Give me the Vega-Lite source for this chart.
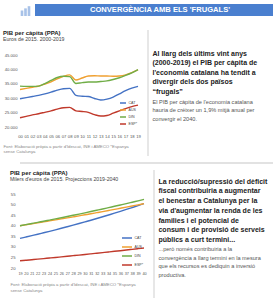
{
  "$schema": "https://vega.github.io/schema/vega-lite/v6.json",
  "background": "white",
  "padding": {"left": 3, "top": 4, "right": 0, "bottom": 0},
  "spacing": 13,
  "resolve": {"scale": {"color": "independent"}, "legend": {"color": "independent"}},
  "config": {
    "font": "Liberation Sans",
    "view": {"stroke": null},
    "axis": {"labelFont": "Liberation Sans", "labelColor": "#555", "grid": false, "ticks": false, "domain": false},
    "legend": {"labelFont": "Liberation Sans", "labelColor": "#444"}
  },
  "datasets": {
    "hist": [
      {"year": 2000, "pais": "CAT", "pib": 29800}, {"year": 2001, "pais": "CAT", "pib": 30200}, {"year": 2002, "pais": "CAT", "pib": 30600}, {"year": 2003, "pais": "CAT", "pib": 31000}, {"year": 2004, "pais": "CAT", "pib": 31500}, {"year": 2005, "pais": "CAT", "pib": 32100}, {"year": 2006, "pais": "CAT", "pib": 32800}, {"year": 2007, "pais": "CAT", "pib": 33300}, {"year": 2008, "pais": "CAT", "pib": 33400}, {"year": 2009, "pais": "CAT", "pib": 31000}, {"year": 2010, "pais": "CAT", "pib": 30700}, {"year": 2011, "pais": "CAT", "pib": 30600}, {"year": 2012, "pais": "CAT", "pib": 29900}, {"year": 2013, "pais": "CAT", "pib": 29400}, {"year": 2014, "pais": "CAT", "pib": 29700}, {"year": 2015, "pais": "CAT", "pib": 30400}, {"year": 2016, "pais": "CAT", "pib": 31500}, {"year": 2017, "pais": "CAT", "pib": 32600}, {"year": 2018, "pais": "CAT", "pib": 33500}, {"year": 2019, "pais": "CAT", "pib": 34100},
      {"year": 2000, "pais": "AUS", "pib": 33000}, {"year": 2001, "pais": "AUS", "pib": 33400}, {"year": 2002, "pais": "AUS", "pib": 33800}, {"year": 2003, "pais": "AUS", "pib": 34200}, {"year": 2004, "pais": "AUS", "pib": 34900}, {"year": 2005, "pais": "AUS", "pib": 35700}, {"year": 2006, "pais": "AUS", "pib": 36700}, {"year": 2007, "pais": "AUS", "pib": 37600}, {"year": 2008, "pais": "AUS", "pib": 38100}, {"year": 2009, "pais": "AUS", "pib": 36300}, {"year": 2010, "pais": "AUS", "pib": 37000}, {"year": 2011, "pais": "AUS", "pib": 37700}, {"year": 2012, "pais": "AUS", "pib": 37800}, {"year": 2013, "pais": "AUS", "pib": 37700}, {"year": 2014, "pais": "AUS", "pib": 37700}, {"year": 2015, "pais": "AUS", "pib": 37600}, {"year": 2016, "pais": "AUS", "pib": 37700}, {"year": 2017, "pais": "AUS", "pib": 38100}, {"year": 2018, "pais": "AUS", "pib": 38900}, {"year": 2019, "pais": "AUS", "pib": 39800},
      {"year": 2000, "pais": "DIN", "pib": 34200}, {"year": 2001, "pais": "DIN", "pib": 34100}, {"year": 2002, "pais": "DIN", "pib": 34100}, {"year": 2003, "pais": "DIN", "pib": 34200}, {"year": 2004, "pais": "DIN", "pib": 35100}, {"year": 2005, "pais": "DIN", "pib": 36200}, {"year": 2006, "pais": "DIN", "pib": 37200}, {"year": 2007, "pais": "DIN", "pib": 37600}, {"year": 2008, "pais": "DIN", "pib": 37500}, {"year": 2009, "pais": "DIN", "pib": 35100}, {"year": 2010, "pais": "DIN", "pib": 35400}, {"year": 2011, "pais": "DIN", "pib": 35600}, {"year": 2012, "pais": "DIN", "pib": 35600}, {"year": 2013, "pais": "DIN", "pib": 35800}, {"year": 2014, "pais": "DIN", "pib": 36000}, {"year": 2015, "pais": "DIN", "pib": 36500}, {"year": 2016, "pais": "DIN", "pib": 37100}, {"year": 2017, "pais": "DIN", "pib": 37900}, {"year": 2018, "pais": "DIN", "pib": 38800}, {"year": 2019, "pais": "DIN", "pib": 39900},
      {"year": 2000, "pais": "ESP*", "pib": 23200}, {"year": 2001, "pais": "ESP*", "pib": 23700}, {"year": 2002, "pais": "ESP*", "pib": 24200}, {"year": 2003, "pais": "ESP*", "pib": 24600}, {"year": 2004, "pais": "ESP*", "pib": 25100}, {"year": 2005, "pais": "ESP*", "pib": 25600}, {"year": 2006, "pais": "ESP*", "pib": 26200}, {"year": 2007, "pais": "ESP*", "pib": 26700}, {"year": 2008, "pais": "ESP*", "pib": 26800}, {"year": 2009, "pais": "ESP*", "pib": 25600}, {"year": 2010, "pais": "ESP*", "pib": 25400}, {"year": 2011, "pais": "ESP*", "pib": 25100}, {"year": 2012, "pais": "ESP*", "pib": 24300}, {"year": 2013, "pais": "ESP*", "pib": 23800}, {"year": 2014, "pais": "ESP*", "pib": 24000}, {"year": 2015, "pais": "ESP*", "pib": 24800}, {"year": 2016, "pais": "ESP*", "pib": 25600}, {"year": 2017, "pais": "ESP*", "pib": 26400}, {"year": 2018, "pais": "ESP*", "pib": 27100}, {"year": 2019, "pais": "ESP*", "pib": 27600}
    ],
    "proj": [
      {"year": 2019, "pais": "CAT", "pib": 34.0}, {"year": 2020, "pais": "CAT", "pib": 34.65}, {"year": 2021, "pais": "CAT", "pib": 35.31}, {"year": 2022, "pais": "CAT", "pib": 35.97}, {"year": 2023, "pais": "CAT", "pib": 36.66}, {"year": 2024, "pais": "CAT", "pib": 37.35}, {"year": 2025, "pais": "CAT", "pib": 38.06}, {"year": 2026, "pais": "CAT", "pib": 38.78}, {"year": 2027, "pais": "CAT", "pib": 39.52}, {"year": 2028, "pais": "CAT", "pib": 40.27}, {"year": 2029, "pais": "CAT", "pib": 41.03}, {"year": 2030, "pais": "CAT", "pib": 41.81}, {"year": 2031, "pais": "CAT", "pib": 42.6}, {"year": 2032, "pais": "CAT", "pib": 43.41}, {"year": 2033, "pais": "CAT", "pib": 44.24}, {"year": 2034, "pais": "CAT", "pib": 45.08}, {"year": 2035, "pais": "CAT", "pib": 45.93}, {"year": 2036, "pais": "CAT", "pib": 46.8}, {"year": 2037, "pais": "CAT", "pib": 47.69}, {"year": 2038, "pais": "CAT", "pib": 48.6}, {"year": 2039, "pais": "CAT", "pib": 49.52}, {"year": 2040, "pais": "CAT", "pib": 50.46},
      {"year": 2019, "pais": "AUS", "pib": 40.0}, {"year": 2020, "pais": "AUS", "pib": 40.44}, {"year": 2021, "pais": "AUS", "pib": 40.89}, {"year": 2022, "pais": "AUS", "pib": 41.35}, {"year": 2023, "pais": "AUS", "pib": 41.8}, {"year": 2024, "pais": "AUS", "pib": 42.27}, {"year": 2025, "pais": "AUS", "pib": 42.74}, {"year": 2026, "pais": "AUS", "pib": 43.21}, {"year": 2027, "pais": "AUS", "pib": 43.69}, {"year": 2028, "pais": "AUS", "pib": 44.18}, {"year": 2029, "pais": "AUS", "pib": 44.67}, {"year": 2030, "pais": "AUS", "pib": 45.16}, {"year": 2031, "pais": "AUS", "pib": 45.66}, {"year": 2032, "pais": "AUS", "pib": 46.17}, {"year": 2033, "pais": "AUS", "pib": 46.68}, {"year": 2034, "pais": "AUS", "pib": 47.2}, {"year": 2035, "pais": "AUS", "pib": 47.73}, {"year": 2036, "pais": "AUS", "pib": 48.26}, {"year": 2037, "pais": "AUS", "pib": 48.79}, {"year": 2038, "pais": "AUS", "pib": 49.33}, {"year": 2039, "pais": "AUS", "pib": 49.88}, {"year": 2040, "pais": "AUS", "pib": 50.44},
      {"year": 2019, "pais": "DIN", "pib": 40.0}, {"year": 2020, "pais": "DIN", "pib": 40.52}, {"year": 2021, "pais": "DIN", "pib": 41.05}, {"year": 2022, "pais": "DIN", "pib": 41.58}, {"year": 2023, "pais": "DIN", "pib": 42.12}, {"year": 2024, "pais": "DIN", "pib": 42.67}, {"year": 2025, "pais": "DIN", "pib": 43.22}, {"year": 2026, "pais": "DIN", "pib": 43.78}, {"year": 2027, "pais": "DIN", "pib": 44.35}, {"year": 2028, "pais": "DIN", "pib": 44.93}, {"year": 2029, "pais": "DIN", "pib": 45.51}, {"year": 2030, "pais": "DIN", "pib": 46.1}, {"year": 2031, "pais": "DIN", "pib": 46.7}, {"year": 2032, "pais": "DIN", "pib": 47.31}, {"year": 2033, "pais": "DIN", "pib": 47.92}, {"year": 2034, "pais": "DIN", "pib": 48.55}, {"year": 2035, "pais": "DIN", "pib": 49.18}, {"year": 2036, "pais": "DIN", "pib": 49.82}, {"year": 2037, "pais": "DIN", "pib": 50.46}, {"year": 2038, "pais": "DIN", "pib": 51.12}, {"year": 2039, "pais": "DIN", "pib": 51.78}, {"year": 2040, "pais": "DIN", "pib": 52.45},
      {"year": 2019, "pais": "ESP*", "pib": 23.4}, {"year": 2020, "pais": "ESP*", "pib": 23.66}, {"year": 2021, "pais": "ESP*", "pib": 23.92}, {"year": 2022, "pais": "ESP*", "pib": 24.18}, {"year": 2023, "pais": "ESP*", "pib": 24.45}, {"year": 2024, "pais": "ESP*", "pib": 24.72}, {"year": 2025, "pais": "ESP*", "pib": 24.99}, {"year": 2026, "pais": "ESP*", "pib": 25.27}, {"year": 2027, "pais": "ESP*", "pib": 25.55}, {"year": 2028, "pais": "ESP*", "pib": 25.83}, {"year": 2029, "pais": "ESP*", "pib": 26.11}, {"year": 2030, "pais": "ESP*", "pib": 26.4}, {"year": 2031, "pais": "ESP*", "pib": 26.69}, {"year": 2032, "pais": "ESP*", "pib": 26.98}, {"year": 2033, "pais": "ESP*", "pib": 27.28}, {"year": 2034, "pais": "ESP*", "pib": 27.58}, {"year": 2035, "pais": "ESP*", "pib": 27.89}, {"year": 2036, "pais": "ESP*", "pib": 28.19}, {"year": 2037, "pais": "ESP*", "pib": 28.5}, {"year": 2038, "pais": "ESP*", "pib": 28.82}, {"year": 2039, "pais": "ESP*", "pib": 29.14}, {"year": 2040, "pais": "ESP*", "pib": 29.46}
    ],
    "icon": [{"k": "a", "v": 5}, {"k": "b", "v": 7}, {"k": "c", "v": 9}],
    "one": [{}]
  },
  "vconcat": [
    {
      "spacing": 4,
      "hconcat": [
        {
          "width": 11, "height": 12,
          "data": {"name": "icon"},
          "mark": {"type": "bar", "color": "#a8c2e8"},
          "encoding": {
            "x": {"field": "k", "type": "nominal", "axis": null, "scale": {"paddingInner": 0.25, "paddingOuter": 0.2}},
            "y": {"field": "v", "type": "quantitative", "axis": null, "scale": {"domain": [0, 11]}}
          }
        },
        {
          "width": 250, "height": 12,
          "view": {"fill": "#4a7fcf", "stroke": null},
          "data": {"name": "one"},
          "mark": {"type": "text", "color": "white", "fontWeight": "bold", "fontSize": 7.6, "font": "Liberation Sans"},
          "encoding": {"text": {"value": "CONVERGÈNCIA AMB ELS 'FRUGALS'"}}
        }
      ]
    },
    {
      "spacing": 5,
      "resolve": {"scale": {"color": "independent"}, "legend": {"color": "independent"}},
      "vconcat": [
        {
          "spacing": 6,
          "resolve": {"scale": {"color": "independent"}, "legend": {"color": "independent"}},
          "hconcat": [
            {
              "spacing": 10,
              "resolve": {"scale": {"color": "independent"}, "legend": {"color": "independent"}},
              "vconcat": [
                {
                  "width": 118, "height": 13,
                  "data": {"name": "one"},
                  "layer": [
                    {
                      "mark": {"type": "text", "align": "left", "baseline": "top", "fontSize": 6, "fontWeight": "bold", "color": "#222", "text": "PIB per càpita (PPA)"},
                      "encoding": {
                        "x": {"datum": -0.144, "type": "quantitative", "scale": {"domain": [0, 1]}, "axis": null},
                        "y": {"datum": 1, "type": "quantitative", "scale": {"domain": [0, 1]}, "axis": null}
                      }
                    },
                    {
                      "mark": {"type": "text", "align": "left", "baseline": "top", "fontSize": 5.2, "color": "#444", "text": "Euros de 2015. 2000-2019"},
                      "encoding": {
                        "x": {"datum": -0.144, "type": "quantitative"},
                        "y": {"datum": 0.46, "type": "quantitative"}
                      }
                    }
                  ]
                },
                {
                  "width": 118, "height": 72,
                  "data": {"name": "hist"},
                  "mark": {"type": "line", "strokeWidth": 1.4, "interpolate": "monotone"},
                  "encoding": {
                    "x": {"field": "year", "type": "ordinal", "scale": {"type": "point", "padding": 0},
                      "axis": {"labelExpr": "substring(datum.label, 2)", "labelAngle": 0, "labelFontSize": 4.2, "labelPadding": 7,
                        "title": ["Font: Elaboració pròpia a partir d'Idescat, INE i AMECO *Espanya", "sense Catalunya"],
                        "titleFontSize": 4.3, "titleFontWeight": "normal", "titleColor": "#888", "titleAnchor": "start", "titleAlign": "left", "titleX": -17, "titlePadding": 6, "titleLineHeight": 5.6}},
                    "y": {"field": "pib", "type": "quantitative", "scale": {"domain": [20000, 45000], "nice": false},
                      "axis": {"values": [20000, 25000, 30000, 35000, 40000, 45000], "labelExpr": "replace(format(datum.value, ','), ',', '.')", "labelFontSize": 4.2, "labelPadding": 3, "title": null}},
                    "color": {"field": "pais", "type": "nominal", "scale": {"domain": ["CAT", "AUS", "DIN", "ESP*"], "range": ["#4472c4", "#f0a030", "#70ad47", "#c0392b"]},
                      "legend": {"orient": "bottom-right", "offset": 0, "padding": 0, "title": null, "symbolType": "stroke", "symbolSize": 36, "symbolStrokeWidth": 1.5, "labelFontSize": 3.6, "rowPadding": -6, "labelOffset": 1.5}}
                  }
                }
              ]
            },
            {
              "width": 121, "height": 126,
              "data": {"name": "one"},
              "layer": [
                {
                  "mark": {"type": "rule", "color": "#cfcfcf", "strokeWidth": 1},
                  "encoding": {
                    "x": {"datum": 0, "type": "quantitative", "scale": {"domain": [0, 1]}, "axis": null},
                    "y": {"datum": 0, "type": "quantitative", "scale": {"domain": [0, 1]}, "axis": null},
                    "y2": {"datum": 1}
                  }
                },
                {
                  "mark": {"type": "text", "align": "left", "baseline": "top", "fontSize": 7, "fontWeight": "bold", "lineHeight": 9.5, "color": "#222",
                    "text": ["Al llarg dels últims vint anys", "(2000-2019) el PIB per càpita de", "l'economia catalana ha tendit a", "divergir dels dos països", "\u201cfrugals\u201d"]},
                  "encoding": {
                    "x": {"datum": 0.037, "type": "quantitative"},
                    "y": {"datum": 0.845, "type": "quantitative"}
                  }
                },
                {
                  "mark": {"type": "text", "align": "left", "baseline": "top", "fontSize": 5.6, "lineHeight": 8.4, "color": "#555",
                    "text": ["El PIB per càpita de l'economia catalana", "hauria de créixer un 1,9% mitjà anual per", "convergir el 2040."]},
                  "encoding": {
                    "x": {"datum": 0.037, "type": "quantitative"},
                    "y": {"datum": 0.445, "type": "quantitative"}
                  }
                }
              ]
            }
          ]
        },
        {
          "width": 267, "height": 2,
          "data": {"name": "one"},
          "mark": {"type": "rule", "color": "#d9d9d9", "strokeWidth": 1.5},
          "encoding": {
            "x": {"datum": 0, "type": "quantitative", "scale": {"domain": [0, 1]}, "axis": null},
            "x2": {"datum": 1},
            "y": {"datum": 0.5, "type": "quantitative", "scale": {"domain": [0, 1]}, "axis": null}
          }
        },
        {
          "spacing": 6,
          "resolve": {"scale": {"color": "independent"}, "legend": {"color": "independent"}},
          "hconcat": [
            {
              "spacing": 9,
              "resolve": {"scale": {"color": "independent"}, "legend": {"color": "independent"}},
              "vconcat": [
                {
                  "width": 124, "height": 13,
                  "data": {"name": "one"},
                  "layer": [
                    {
                      "mark": {"type": "text", "align": "left", "baseline": "top", "fontSize": 6, "fontWeight": "bold", "color": "#222", "text": "PIB per càpita (PPA)"},
                      "encoding": {
                        "x": {"datum": -0.081, "type": "quantitative", "scale": {"domain": [0, 1]}, "axis": null},
                        "y": {"datum": 1, "type": "quantitative", "scale": {"domain": [0, 1]}, "axis": null}
                      }
                    },
                    {
                      "mark": {"type": "text", "align": "left", "baseline": "top", "fontSize": 5.2, "color": "#444", "text": "Milers d'euros de 2015. Projeccions 2019-2040"},
                      "encoding": {
                        "x": {"datum": -0.081, "type": "quantitative"},
                        "y": {"datum": 0.46, "type": "quantitative"}
                      }
                    }
                  ]
                },
                {
                  "width": 124, "height": 74,
                  "data": {"name": "proj"},
                  "mark": {"type": "line", "strokeWidth": 1.4, "interpolate": "monotone"},
                  "encoding": {
                    "x": {"field": "year", "type": "ordinal", "scale": {"type": "point", "padding": 0},
                      "axis": {"labelExpr": "substring(datum.label, 2)", "labelAngle": 0, "labelFontSize": 3.8, "labelPadding": 3,
                        "title": ["Font: Elaboració pròpia a partir d'Idescat, INE i AMECO *Espanya", "sense Catalunya"],
                        "titleFontSize": 4.3, "titleFontWeight": "normal", "titleColor": "#888", "titleAnchor": "start", "titleAlign": "left", "titleX": -10, "titlePadding": 8, "titleLineHeight": 5.8}},
                    "y": {"field": "pib", "type": "quantitative", "scale": {"domain": [20, 55], "nice": false},
                      "axis": {"values": [20, 25, 30, 35, 40, 45, 50, 55], "labelFontSize": 4.2, "labelPadding": 5, "title": null}},
                    "color": {"field": "pais", "type": "nominal", "scale": {"domain": ["CAT", "AUS", "DIN", "ESP*"], "range": ["#4472c4", "#f0a030", "#70ad47", "#c0392b"]},
                      "legend": {"orient": "bottom-right", "offset": 0, "padding": 0, "title": null, "symbolType": "stroke", "symbolSize": 100, "symbolStrokeWidth": 1.5, "labelFontSize": 3.6, "rowPadding": -6.6, "labelOffset": 1.5}}
                  }
                }
              ]
            },
            {
              "width": 121, "height": 128,
              "data": {"name": "one"},
              "layer": [
                {
                  "mark": {"type": "rule", "color": "#cfcfcf", "strokeWidth": 1},
                  "encoding": {
                    "x": {"datum": 0, "type": "quantitative", "scale": {"domain": [0, 1]}, "axis": null},
                    "y": {"datum": 0, "type": "quantitative", "scale": {"domain": [0, 1]}, "axis": null},
                    "y2": {"datum": 1}
                  }
                },
                {
                  "mark": {"type": "text", "align": "left", "baseline": "top", "fontSize": 7, "fontWeight": "bold", "lineHeight": 9.75, "color": "#222",
                    "text": ["La reducció/supressió del dèficit", "fiscal contribuiria a augmentar", "el benestar a Catalunya per la", "via d'augmentar la renda de les", "families i el potencial de", "consum i de provisió de serveis", "públics a curt termini..."]},
                  "encoding": {
                    "x": {"datum": 0.037, "type": "quantitative"},
                    "y": {"datum": 0.941, "type": "quantitative"}
                  }
                },
                {
                  "mark": {"type": "text", "align": "left", "baseline": "top", "fontSize": 5.6, "lineHeight": 8.6, "color": "#555",
                    "text": ["...però només contribuiria a la", "convergència a llarg termini en la mesura", "que els recursos es dediquin a inversió", "productiva."]},
                  "encoding": {
                    "x": {"datum": 0.037, "type": "quantitative"},
                    "y": {"datum": 0.398, "type": "quantitative"}
                  }
                }
              ]
            }
          ]
        }
      ]
    }
  ]
}
